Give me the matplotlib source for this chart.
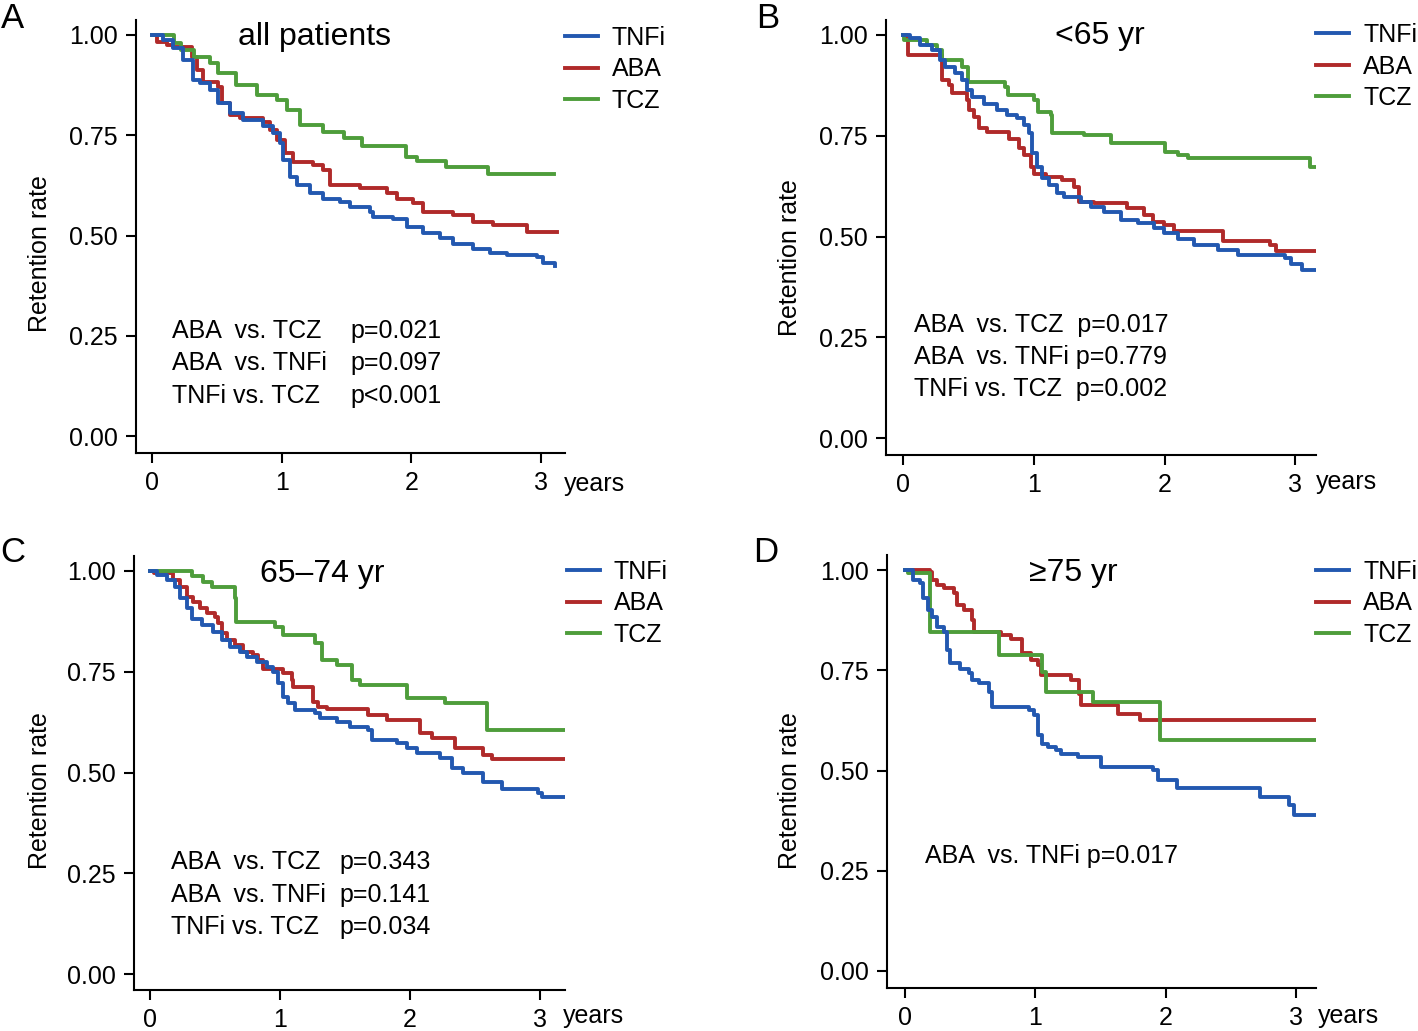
import matplotlib
matplotlib.use("Agg")
import matplotlib.pyplot as plt

plt.rcParams['font.family'] = ['Liberation Sans', 'DejaVu Sans']

# ---- data ----
drugs = ["TNFi", "ABA", "TCZ"]

# A: all patients
a_tnfi_t = [0, 0.087, 0.164, 0.242, 0.318, 0.370, 0.447, 0.511, 0.601, 0.704, 0.858, 0.935, 0.987, 1.013,
            1.064, 1.116, 1.218, 1.321, 1.450, 1.527, 1.681, 1.707, 1.861, 1.963, 2.092, 2.220, 2.323,
            2.477, 2.606, 2.734, 2.966, 3.017, 3.107]
a_tnfi_s = [1.0, 0.988, 0.967, 0.938, 0.888, 0.880, 0.863, 0.830, 0.805, 0.788, 0.772, 0.755, 0.730, 0.688,
            0.647, 0.626, 0.605, 0.592, 0.584, 0.572, 0.559, 0.545, 0.540, 0.522, 0.505, 0.493, 0.479,
            0.466, 0.457, 0.451, 0.447, 0.431, 0.424]
a_aba_t = [0, 0.036, 0.113, 0.164, 0.306, 0.344, 0.396, 0.511, 0.537, 0.601, 0.678, 0.858, 0.910, 0.961,
           1.026, 1.090, 1.244, 1.321, 1.372, 1.604, 1.809, 1.887, 2.015, 2.092, 2.323, 2.477, 2.632,
           2.889, 3.12]
a_aba_s = [1.0, 0.983, 0.975, 0.971, 0.946, 0.913, 0.884, 0.871, 0.830, 0.801, 0.792, 0.784, 0.763, 0.738,
           0.705, 0.684, 0.676, 0.663, 0.626, 0.618, 0.605, 0.592, 0.580, 0.559, 0.551, 0.534, 0.526,
           0.509, 0.509]
a_tcz_t = [0, 0.17, 0.22, 0.32, 0.45, 0.51, 0.65, 0.81, 0.96, 1.04, 1.14, 1.32, 1.48, 1.62, 1.96, 2.04,
           2.27, 2.59, 3.10]
a_tcz_s = [1.0, 0.98, 0.963, 0.946, 0.929, 0.904, 0.875, 0.850, 0.838, 0.813, 0.776, 0.759, 0.742, 0.722,
           0.697, 0.685, 0.672, 0.654, 0.654]

# B: <65 yr
b_tnfi_t = [0, 0.054, 0.130, 0.220, 0.284, 0.322, 0.399, 0.450, 0.489, 0.527, 0.616, 0.719, 0.795, 0.872,
            0.923, 0.962, 0.988, 1.026, 1.064, 1.115, 1.179, 1.230, 1.358, 1.435, 1.537, 1.665, 1.793,
            1.921, 1.998, 2.10, 2.228, 2.407, 2.561, 2.919, 2.970, 3.047, 3.162]
b_tnfi_s = [1.0, 0.992, 0.975, 0.963, 0.938, 0.921, 0.905, 0.888, 0.864, 0.847, 0.830, 0.814, 0.801, 0.793,
            0.777, 0.756, 0.706, 0.673, 0.644, 0.628, 0.607, 0.599, 0.586, 0.574, 0.562, 0.541, 0.533,
            0.520, 0.508, 0.495, 0.479, 0.466, 0.454, 0.446, 0.433, 0.417, 0.417]
b_aba_t = [0, 0.028, 0.041, 0.297, 0.348, 0.373, 0.489, 0.501, 0.540, 0.578, 0.642, 0.808, 0.885, 0.923,
           0.975, 1.0, 1.09, 1.217, 1.307, 1.345, 1.46, 1.716, 1.844, 1.908, 1.998, 2.075, 2.446, 2.804,
           2.855, 3.162]
b_aba_s = [1.0, 0.988, 0.950, 0.888, 0.876, 0.855, 0.839, 0.814, 0.797, 0.768, 0.760, 0.743, 0.719, 0.702,
           0.673, 0.656, 0.648, 0.640, 0.624, 0.586, 0.582, 0.570, 0.553, 0.537, 0.528, 0.514, 0.490, 0.479,
           0.463, 0.463]
b_tcz_t = [0, 0.01, 0.18, 0.26, 0.30, 0.45, 0.50, 0.78, 0.80, 1.00, 1.03, 1.13, 1.14, 1.38, 1.59, 2.00,
           2.10, 2.18, 3.11, 3.16]
b_tcz_s = [1.0, 0.988, 0.975, 0.963, 0.938, 0.921, 0.884, 0.872, 0.851, 0.839, 0.810, 0.801, 0.756, 0.752,
           0.731, 0.710, 0.702, 0.694, 0.673, 0.673]

# C: 65-74 yr
c_tnfi_t = [0, 0.051, 0.128, 0.192, 0.231, 0.282, 0.321, 0.397, 0.487, 0.551, 0.615, 0.692, 0.744, 0.821,
            0.897, 0.949, 0.987, 1.026, 1.064, 1.115, 1.269, 1.308, 1.436, 1.538, 1.679, 1.705, 1.897,
            1.974, 2.051, 2.231, 2.321, 2.41, 2.564, 2.705, 2.987, 3.013, 3.19]
c_tnfi_s = [1.0, 0.990, 0.978, 0.961, 0.932, 0.907, 0.882, 0.866, 0.849, 0.829, 0.812, 0.800, 0.787, 0.775,
            0.762, 0.750, 0.721, 0.688, 0.672, 0.655, 0.647, 0.634, 0.626, 0.614, 0.606, 0.581, 0.573,
            0.560, 0.548, 0.535, 0.511, 0.498, 0.477, 0.460, 0.448, 0.440, 0.440]
c_aba_t = [0, 0.03, 0.179, 0.231, 0.282, 0.333, 0.385, 0.436, 0.5, 0.526, 0.551, 0.590, 0.654, 0.718,
           0.795, 0.833, 0.872, 1.026, 1.090, 1.103, 1.256, 1.295, 1.359, 1.679, 1.821, 2.077, 2.167,
           2.346, 2.564, 2.628, 3.19]
c_aba_s = [1.0, 0.994, 0.978, 0.961, 0.936, 0.924, 0.907, 0.895, 0.886, 0.870, 0.845, 0.829, 0.816, 0.800,
           0.791, 0.779, 0.758, 0.746, 0.730, 0.713, 0.676, 0.663, 0.657, 0.642, 0.630, 0.597, 0.585,
           0.560, 0.543, 0.533, 0.533]
c_tcz_t = [0, 0.321, 0.41, 0.474, 0.654, 0.662, 0.962, 1.026, 1.269, 1.321, 1.436, 1.551, 1.615, 1.974,
           2.269, 2.59, 3.19]
c_tcz_s = [1.0, 0.988, 0.972, 0.961, 0.932, 0.874, 0.862, 0.841, 0.821, 0.779, 0.767, 0.730, 0.716, 0.684,
           0.672, 0.606, 0.606]

# D: >=75 yr
d_tnfi_t = [0, 0.064, 0.116, 0.141, 0.180, 0.206, 0.245, 0.296, 0.322, 0.347, 0.425, 0.489, 0.515, 0.566,
            0.644, 0.669, 0.952, 0.991, 1.017, 1.055, 1.094, 1.158, 1.197, 1.326, 1.506, 1.905, 1.944,
            2.085, 2.728, 2.947, 2.985, 3.16]
d_tnfi_s = [1.0, 0.975, 0.967, 0.929, 0.900, 0.884, 0.859, 0.846, 0.800, 0.767, 0.754, 0.742, 0.725, 0.717,
            0.697, 0.659, 0.651, 0.638, 0.588, 0.567, 0.559, 0.551, 0.540, 0.534, 0.509, 0.501, 0.476,
            0.457, 0.435, 0.414, 0.389, 0.389]
d_aba_t = [0, 0.193, 0.206, 0.245, 0.296, 0.373, 0.399, 0.450, 0.515, 0.528, 0.734, 0.811, 0.901, 0.965,
           1.017, 1.042, 1.274, 1.339, 1.351, 1.635, 1.802, 3.16]
d_aba_s = [1.0, 0.996, 0.975, 0.963, 0.954, 0.942, 0.913, 0.900, 0.875, 0.846, 0.838, 0.829, 0.792, 0.775,
           0.763, 0.738, 0.725, 0.692, 0.663, 0.642, 0.625, 0.625]
d_tcz_t = [0, 0.026, 0.193, 0.721, 1.055, 1.081, 1.441, 1.956, 3.16]
d_tcz_s = [1.0, 0.992, 0.846, 0.788, 0.746, 0.697, 0.672, 0.576, 0.576]

titles = ["all patients", "<65 yr", "65\u201374 yr", "\u226575 yr"]
letters = ["A", "B", "C", "D"]
a_comp = ["ABA  vs. TCZ", "ABA  vs. TNFi", "TNFi vs. TCZ"]
a_p = ["p=0.021", "p=0.097", "p<0.001"]
b_comp = ["ABA  vs. TCZ  p=0.017", "ABA  vs. TNFi p=0.779", "TNFi vs. TCZ  p=0.002"]
c_comp = ["ABA  vs. TCZ", "ABA  vs. TNFi", "TNFi vs. TCZ"]
c_p = ["p=0.343", "p=0.141", "p=0.034"]
d_comp = ["ABA  vs. TNFi p=0.017"]

colors = {"TNFi": "#2358b0", "ABA": "#b02a2a", "TCZ": "#4e9d3b"}
zord = {"TNFi": 4, "ABA": 2, "TCZ": 3}

W, H = 1418, 1031
fig = plt.figure(figsize=(W / 100, H / 100), dpi=100)
fig.patch.set_facecolor("white")


def fx(px):
    return px / W


def fy(py):
    return 1 - py / H


# pixel geometry of each panel: x0, px per year, y0 row, px per unit, left, right, bottom, top
panels = [
    dict(geo=(152, 129.7, 436, 401, 136, 565, 453, 20),
         curves=[(a_tnfi_t, a_tnfi_s), (a_aba_t, a_aba_s), (a_tcz_t, a_tcz_s)],
         comp=a_comp, p=a_p, pcol=350, tx=172, rows=[331, 363, 396],
         title_xy=(315, 37), letter_xy=(12, 18), ylab_xy=(40, 254), years_xy=(564, 484),
         leg_xy=(565, 26)),
    dict(geo=(903, 130.8, 438, 403, 886, 1316, 455, 20),
         curves=[(b_tnfi_t, b_tnfi_s), (b_aba_t, b_aba_s), (b_tcz_t, b_tcz_s)],
         comp=b_comp, p=None, pcol=None, tx=914, rows=[325, 357, 389],
         title_xy=(1100, 36), letter_xy=(768, 18), ylab_xy=(790, 258), years_xy=(1316, 482),
         leg_xy=(1316, 23)),
    dict(geo=(150, 130, 974, 403, 134, 565, 990, 556),
         curves=[(c_tnfi_t, c_tnfi_s), (c_aba_t, c_aba_s), (c_tcz_t, c_tcz_s)],
         comp=c_comp, p=c_p, pcol=339, tx=171, rows=[862, 895, 927],
         title_xy=(322, 574), letter_xy=(13, 553), ylab_xy=(40, 791), years_xy=(563, 1016),
         leg_xy=(567, 560)),
    dict(geo=(905, 130.3, 971, 401, 887, 1316, 988, 555),
         curves=[(d_tnfi_t, d_tnfi_s), (d_aba_t, d_aba_s), (d_tcz_t, d_tcz_s)],
         comp=d_comp, p=None, pcol=None, tx=925, rows=[856],
         title_xy=(1073, 573), letter_xy=(766, 553), ylab_xy=(790, 791), years_xy=(1318, 1016),
         leg_xy=(1316, 560)),
]

for i, pan in enumerate(panels):
    x0, xs, y0, ys, L, R, B, T = pan["geo"]
    ax = fig.add_axes([L / W, (H - B) / H, (R - L) / W, (B - T) / H])
    ax.set_xlim((L - x0) / xs, (R - x0) / xs)
    ax.set_ylim((y0 - B) / ys, (y0 - T) / ys)

    handles = []
    for name, (t, s) in zip(drugs, pan["curves"]):
        h, = ax.step(t, s, where="post", color=colors[name], lw=2.8, zorder=zord[name], label=name)
        handles.append(h)

    ax.set_xticks([0, 1, 2, 3])
    ax.set_yticks([0, 0.25, 0.5, 0.75, 1.0])
    ax.set_yticklabels(["0.00", "0.25", "0.50", "0.75", "1.00"])
    for sp in ["top", "right"]:
        ax.spines[sp].set_visible(False)
    for sp in ["left", "bottom"]:
        ax.spines[sp].set_linewidth(1.5)
    ax.tick_params(labelsize=18, width=1.5, length=7, direction="out")
    ax.tick_params(axis="x", pad=6)
    ax.tick_params(axis="y", pad=6)
    ax.patch.set_alpha(0)

    ax.legend(handles, drugs, loc="upper left", bbox_to_anchor=(fx(pan["leg_xy"][0]), fy(pan["leg_xy"][1])),
              bbox_transform=fig.transFigure, frameon=False, fontsize=18, handlelength=1.32,
              handletextpad=0.56, labelspacing=0.3, borderpad=0, borderaxespad=0)

    # p-value annotations
    for k, row in enumerate(pan["rows"]):
        fig.text(fx(pan["tx"]), fy(row), pan["comp"][k], fontsize=18, ha="left", va="center")
        if pan["p"] is not None:
            fig.text(fx(pan["pcol"]), fy(row), pan["p"][k], fontsize=18, ha="left", va="center")

    fig.text(fx(pan["title_xy"][0]), fy(pan["title_xy"][1]), titles[i], fontsize=23, ha="center", va="center")
    fig.text(fx(pan["letter_xy"][0]), fy(pan["letter_xy"][1]), letters[i], fontsize=25, ha="center", va="center")
    fig.text(fx(pan["ylab_xy"][0]), fy(pan["ylab_xy"][1]), "Retention rate", fontsize=18, rotation=90,
             ha="center", va="center")
    fig.text(fx(pan["years_xy"][0]), fy(pan["years_xy"][1]), "years", fontsize=18, ha="left", va="center")

fig.savefig("out.png", dpi=100)
